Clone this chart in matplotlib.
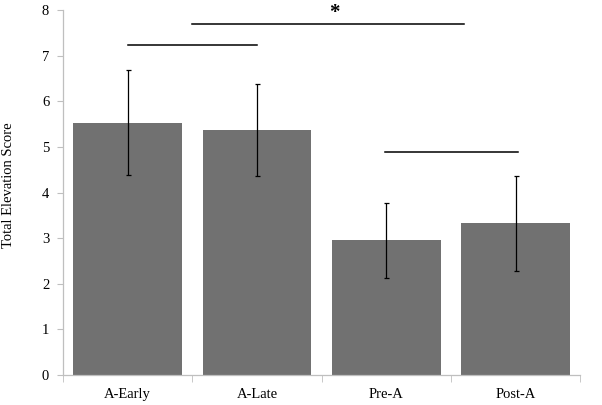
import matplotlib.pyplot as plt
import numpy as np

# Data
conditions = ['A-Early', 'A-Late', 'Pre-A', 'Post-A']
scores = [5.53, 5.37, 2.95, 3.33]
errors = [1.15, 1.0, 0.83, 1.04]

# significance lines: (start, end, height) in category units
brackets = [(0.0, 1.0, 7.24), (0.5, 2.6, 7.69), (1.99, 3.02, 4.90)]
star_pos = (1.6, 7.72)

plt.rcParams['font.family'] = ['Liberation Serif', 'DejaVu Serif']

fig = plt.figure(figsize=(6.02, 4.05), dpi=100)
ax = fig.add_axes([0.1047, 0.074, 0.859, 0.901])

x = np.arange(len(conditions))
ax.bar(x, scores, width=0.84, color='#717171', zorder=2)
ax.errorbar(x, scores, yerr=errors, fmt='none', ecolor='black',
            elinewidth=0.9, capsize=1.8, capthick=0.9, zorder=3)

for x0, x1, h in brackets:
    ax.plot([x0, x1], [h, h], color='black', lw=1.1, zorder=3)
ax.text(star_pos[0], star_pos[1], '*', ha='center', va='bottom',
        fontsize=15, fontweight='bold')

ax.set_xlim(-0.5, 3.5)
ax.set_ylim(0, 8)
ax.set_yticks(range(0, 9))
ax.set_xticks(x)
ax.set_xticklabels(conditions)
ax.set_xticks(np.arange(-0.5, 4, 1), minor=True)
ax.tick_params(axis='x', which='major', length=0, pad=9, labelsize=10.5)
ax.tick_params(axis='x', which='minor', length=5, color='#bfbfbf', direction='out')
ax.tick_params(axis='y', length=4, color='#bfbfbf', labelsize=10.5, pad=6)
ax.set_ylabel('Total Elevation Score', fontsize=10.5)
ax.yaxis.set_label_coords(-0.092, 0.52)

for s in ['top', 'right']:
    ax.spines[s].set_visible(False)
for s in ['left', 'bottom']:
    ax.spines[s].set_color('#bfbfbf')
    ax.spines[s].set_linewidth(0.9)

fig.savefig('out.png', dpi=100)
